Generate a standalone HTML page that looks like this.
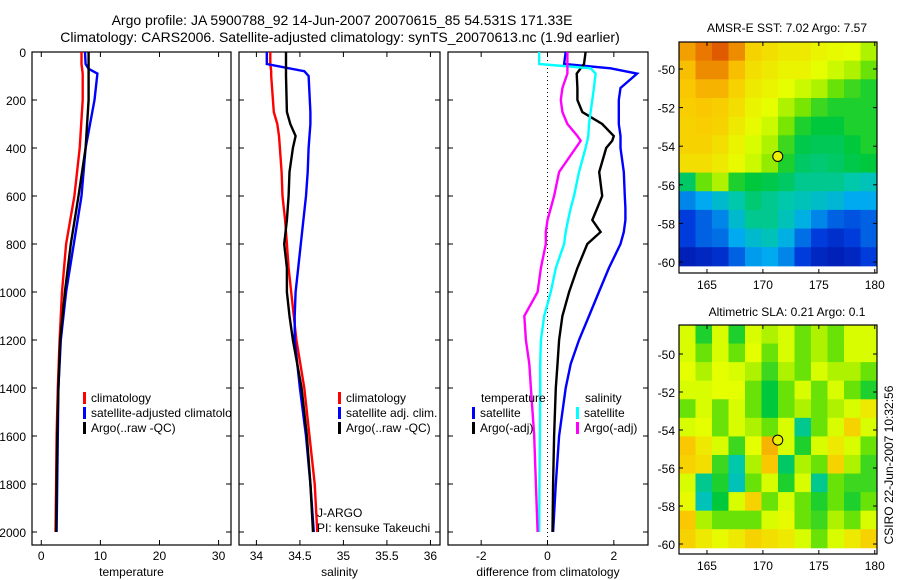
<!DOCTYPE html>
<html><head><meta charset="utf-8"><style>
body{margin:0;background:#fff;}
svg{display:block;font-family:"Liberation Sans",sans-serif;}
</style></head><body>
<svg id="fig" width="900" height="580" viewBox="0 0 900 580" xmlns="http://www.w3.org/2000/svg">
<defs><clipPath id="clip1"><rect x="32" y="52" width="199" height="493"/></clipPath></defs>
<text x="342" y="25" font-size="14" text-anchor="middle">Argo profile: JA 5900788_92 14-Jun-2007 20070615_85 54.531S 171.33E</text>
<text x="340" y="42" font-size="14" text-anchor="middle">Climatology: CARS2006. Satellite-adjusted climatology: synTS_20070613.nc (1.9d earlier)</text>
<text x="787" y="32" font-size="12" text-anchor="middle">AMSR-E SST: 7.02 Argo: 7.57</text>
<text x="787" y="316" font-size="12" text-anchor="middle">Altimetric SLA: 0.21 Argo: 0.1</text>
<text transform="translate(893,465) rotate(-90)" font-size="12" text-anchor="middle">CSIRO 22-Jun-2007 10:32:56</text>
<g id="g"></g>
</svg>
<script>
// ---- profile data ----
const tDepth=[0,50,70,90,200,400,600,800,1000,1200,1400,1600,1800,2000];
const tClim=[6.8,6.8,6.9,7.0,7.0,6.5,5.6,4.2,3.5,3.1,2.8,2.6,2.5,2.4];
const tSat=[7.4,7.5,8.0,9.5,9.0,7.5,6.8,5.5,4.2,3.3,2.9,2.8,2.7,2.6];
const tArgo=[8.0,8.0,8.0,8.0,8.0,7.5,6.3,5.0,4.0,3.2,2.9,2.7,2.6,2.5];
const sDepth=[0,50,80,100,250,300,350,400,500,600,700,800,900,1000,1100,1200,1400,1600,1800,2000];
const sClim=[34.16,34.16,34.17,34.17,34.2,34.24,34.26,34.27,34.29,34.3,34.33,34.35,34.37,34.4,34.43,34.46,34.55,34.61,34.67,34.7];
const sSat=[34.12,34.12,34.55,34.6,34.62,34.62,34.61,34.6,34.59,34.57,34.54,34.51,34.48,34.45,34.44,34.44,34.5,34.57,34.62,34.66];
const sArgo=[34.34,34.34,34.34,34.34,34.35,34.39,34.45,34.42,34.38,34.37,34.35,34.32,34.35,34.35,34.38,34.42,34.52,34.58,34.62,34.65];
const dDepth=[0,50,68,90,150,200,250,300,350,370,400,500,600,650,700,750,800,900,1000,1100,1200,1300,1400,1600,1800,2000];
const dSatT=[0.55,0.5,1.9,2.7,2.2,2.15,2.15,2.15,2.2,2.2,2.2,2.3,2.33,2.35,2.35,2.3,2.2,1.85,1.55,1.25,0.95,0.7,0.55,0.35,0.25,0.17];
const dArgoT=[1.15,1.1,1.0,0.88,0.9,0.9,1.05,1.65,2.0,1.95,1.77,1.56,1.65,1.5,1.35,1.6,1.2,0.9,0.65,0.45,0.35,0.3,0.25,0.2,0.17,0.15];
const dSatS=[-0.25,-0.25,1.3,1.45,1.4,1.35,1.3,1.25,1.23,1.2,1.15,0.95,0.8,0.7,0.62,0.55,0.5,0.25,0.1,-0.1,-0.2,-0.22,-0.22,-0.23,-0.24,-0.25];
const dArgoS=[0.6,0.6,0.6,0.6,0.45,0.4,0.45,0.6,0.9,1.0,0.85,0.35,0.2,0.1,0.0,-0.05,-0.05,-0.2,-0.3,-0.7,-0.65,-0.55,-0.5,-0.4,-0.35,-0.3];
const depthTicks=[0,200,400,600,800,1000,1200,1400,1600,1800,2000];
const tTicks=[0,10,20,30], sTicks=[34,34.5,35,35.5,36], dTicks=[-2,0,2];
// ---- map data (normalised colour values 0..1, 12x12, north->south) ----
const sst=[
[0.78,0.82,0.86,0.8,0.72,0.7,0.68,0.68,0.66,0.65,0.64,0.6],
[0.75,0.8,0.8,0.75,0.7,0.68,0.66,0.66,0.64,0.62,0.6,0.55],
[0.74,0.76,0.76,0.72,0.68,0.66,0.64,0.62,0.6,0.55,0.52,0.5],
[0.73,0.74,0.73,0.7,0.66,0.64,0.6,0.56,0.52,0.5,0.5,0.5],
[0.72,0.73,0.72,0.68,0.65,0.62,0.56,0.5,0.48,0.48,0.5,0.5],
[0.72,0.72,0.7,0.66,0.63,0.6,0.52,0.47,0.46,0.46,0.48,0.5],
[0.7,0.7,0.68,0.65,0.62,0.58,0.5,0.45,0.44,0.45,0.47,0.48],
[0.45,0.55,0.6,0.5,0.48,0.47,0.45,0.42,0.42,0.42,0.4,0.38],
[0.25,0.3,0.35,0.4,0.44,0.42,0.4,0.38,0.36,0.34,0.3,0.3],
[0.15,0.2,0.25,0.35,0.42,0.42,0.38,0.32,0.25,0.2,0.18,0.2],
[0.15,0.2,0.22,0.3,0.35,0.38,0.32,0.22,0.15,0.12,0.15,0.2],
[0.08,0.1,0.12,0.2,0.28,0.3,0.25,0.15,0.1,0.08,0.1,0.15]];
const sla=[
[0.63,0.5,0.63,0.5,0.63,0.6,0.63,0.55,0.6,0.55,0.63,0.63],
[0.63,0.55,0.63,0.55,0.64,0.55,0.63,0.55,0.6,0.55,0.63,0.63],
[0.64,0.6,0.64,0.63,0.6,0.52,0.6,0.55,0.63,0.6,0.6,0.55],
[0.63,0.63,0.64,0.64,0.55,0.48,0.55,0.63,0.55,0.63,0.55,0.5],
[0.55,0.63,0.55,0.63,0.55,0.48,0.55,0.6,0.55,0.6,0.63,0.68],
[0.63,0.64,0.55,0.63,0.6,0.55,0.63,0.42,0.55,0.63,0.72,0.63],
[0.74,0.68,0.63,0.52,0.64,0.76,0.63,0.5,0.63,0.68,0.63,0.55],
[0.72,0.7,0.52,0.4,0.6,0.74,0.45,0.6,0.55,0.72,0.6,0.52],
[0.63,0.42,0.5,0.38,0.55,0.63,0.5,0.63,0.42,0.55,0.52,0.52],
[0.65,0.38,0.48,0.63,0.72,0.55,0.63,0.55,0.5,0.55,0.5,0.55],
[0.74,0.6,0.55,0.55,0.55,0.63,0.65,0.55,0.52,0.6,0.55,0.63],
[0.72,0.68,0.65,0.68,0.72,0.7,0.68,0.63,0.55,0.63,0.68,0.72]];
const latTicks=[-50,-52,-54,-56,-58,-60], lonTicks=[165,170,175,180];
const argoLon=171.33, argoLat=-54.53;

const NS="http://www.w3.org/2000/svg", G=document.getElementById('g');
function mk(t,a,p){const e=document.createElementNS(NS,t);for(const k in a)e.setAttribute(k,a[k]);(p||G).appendChild(e);return e;}
const yTop=52,yBot=545;
const yD=d=>yTop+d*(532-52)/2000;
function panel(name,x0,x1,xmin,xmax,ticks,label,showY){
  const xs=v=>x0+(v-xmin)/(xmax-xmin)*(x1-x0);
  const g=mk('g',{});
  
  
  const r=mk('rect',{x:x0,y:yTop,width:x1-x0,height:yBot-yTop,fill:'none',stroke:'#000','stroke-width':1.2},g);
  
  
  depthTicks.forEach(d=>{const y=yD(d);
    mk('line',{x1:x0,x2:x0+5,y1:y,y2:y,stroke:'#000'},g);mk('line',{x1:x1-5,x2:x1,y1:y,y2:y,stroke:'#000'},g);
    if(showY){const t=mk('text',{x:x0-6,y:y+5,'font-size':12,'text-anchor':'end'},g);t.textContent=d;
      
      }
  });
  ticks.forEach(v=>{const x=xs(v);
    mk('line',{x1:x,x2:x,y1:yTop,y2:yTop+5,stroke:'#000'},g);mk('line',{x1:x,x2:x,y1:yBot-5,y2:yBot,stroke:'#000'},g);
    const t=mk('text',{x:x,y:560,'font-size':12,'text-anchor':'middle'},g);t.textContent=v;
    
    });
  const t=mk('text',{x:(x0+x1)/2,y:576,'font-size':12,'text-anchor':'middle'},g);t.textContent=label;
  
  
  return {xs,g};
}
function line(p,depths,vals,col,name){
  const pts=depths.map((d,i)=>p.xs(vals[i]).toFixed(1)+','+yD(d).toFixed(1)).join(' ');
  const e=mk('polyline',{points:pts,fill:'none',stroke:col,'stroke-width':2.4},p.g);
  
  
}
function legend(p,x,y,items,clip){
  const lg=mk('g',clip?{'clip-path':'url(#'+clip+')'}:{},p.g);
  
  
  items.forEach((it,i)=>{const yy=y+i*15;
    if(it[1])mk('rect',{x:x,y:yy-10,width:3,height:12,fill:it[1]},lg);
    const t=mk('text',{x:x+(it[1]?8:0),y:yy,'font-size':12},lg);t.textContent=it[0];
    
    });
}
// panel 1
const P1=panel('temperature-panel',32,231,-1.57,32.1,tTicks,'temperature',true);
line(P1,tDepth,tClim,'#f00','temp-climatology-line');
line(P1,tDepth,tSat,'#00f','temp-satellite-line');
line(P1,tDepth,tArgo,'#000','temp-argo-line');
legend(P1,83,402,[['climatology','#f00'],['satellite-adjusted climatology','#00f'],['Argo(..raw -QC)','#000']],'clip1');
// panel 2
const P2=panel('salinity-panel',239,440,33.8,36.11,sTicks,'salinity',false);
line(P2,sDepth,sClim,'#f00','sal-climatology-line');
line(P2,sDepth,sSat,'#00f','sal-satellite-line');
line(P2,sDepth,sArgo,'#000','sal-argo-line');
legend(P2,338,402,[['climatology','#f00'],['satellite adj. clim.','#00f'],['Argo(..raw -QC)','#000']]);
legend(P2,317,517,[['J-ARGO',null],['PI: kensuke Takeuchi',null]]);
// panel 3
const P3=panel('difference-panel',448,648,-3.0,3.03,dTicks,'difference from climatology',false);
mk('line',{x1:P3.xs(0),x2:P3.xs(0),y1:yTop,y2:yBot,stroke:'#000','stroke-dasharray':'1,3'},P3.g);
line(P3,dDepth,dSatT,'#00f','diff-temp-satellite-line');
line(P3,dDepth,dArgoT,'#000','diff-temp-argo-line');
line(P3,dDepth,dSatS,'#0ff','diff-sal-satellite-line');
line(P3,dDepth,dArgoS,'#f0f','diff-sal-argo-line');
legend(P3,481,402,[['temperature',null]]);
legend(P3,472,417,[['satellite','#00f'],['Argo(-adj)','#000']]);
legend(P3,585,402,[['salinity',null]]);
legend(P3,576,417,[['satellite','#0ff'],['Argo(-adj)','#f0f']]);
// colormap
function jet(v){const stops=[[0,[0,0,140]],[0.15,[0,60,220]],[0.3,[0,170,240]],[0.4,[0,200,170]],[0.48,[0,200,60]],[0.56,[120,230,0]],[0.64,[230,255,0]],[0.74,[250,200,0]],[0.84,[230,100,0]],[1,[180,30,0]]];
  for(let i=1;i<stops.length;i++)if(v<=stops[i][0]){const a=stops[i-1],b=stops[i],f=(v-a[0])/(b[0]-a[0]);
    return 'rgb('+a[1].map((c,k)=>Math.round(c+f*(b[1][k]-c))).join(',')+')';}
  return 'rgb(180,30,0)';}
function map(name,grid,x0,x1,y0,y1,lat50,lat60){
  const lonMin=162.5,lonMax=180.2;
  const xs=l=>x0+(l-lonMin)/(lonMax-lonMin)*(x1-x0);
  const ys=la=>lat50+(la+50)/(-10)*(lat60-lat50);
  const g=mk('g',{});
  
  
  const latTop=-50+(y0-lat50)/(lat60-lat50)*(-10), latBot=-60.2;
  const nr=grid.length,nc=grid[0].length;
  for(let r=0;r<nr;r++)for(let c=0;c<nc;c++){
    const la0=latTop+(latBot-latTop)*r/nr, la1=latTop+(latBot-latTop)*(r+1)/nr;
    const lo0=lonMin+(lonMax-lonMin)*c/nc, lo1=lonMin+(lonMax-lonMin)*(c+1)/nc;
    const e=mk('rect',{x:xs(lo0),y:ys(la0),width:xs(lo1)-xs(lo0)+0.5,height:ys(la1)-ys(la0)+0.5,fill:jet(grid[r][c])},g);
    
    
  }
  const f=mk('rect',{x:x0,y:y0,width:x1-x0,height:y1-y0,fill:'none',stroke:'#000','stroke-width':1.2},g);
  
  
  latTicks.forEach(l=>{const y=ys(l);mk('line',{x1:x0,x2:x0+4,y1:y,y2:y,stroke:'#000'},g);mk('line',{x1:x1-4,x2:x1,y1:y,y2:y,stroke:'#000'},g);
    const t=mk('text',{x:x0-4,y:y+5,'font-size':12,'text-anchor':'end'},g);t.textContent=l;
    
    });
  lonTicks.forEach(l=>{const x=xs(l);mk('line',{x1:x,x2:x,y1:y0,y2:y0+4,stroke:'#000'},g);mk('line',{x1:x,x2:x,y1:y1-4,y2:y1,stroke:'#000'},g);
    const t=mk('text',{x:x,y:y1+16,'font-size':12,'text-anchor':'middle'},g);t.textContent=l;
    
    });
  const m=mk('circle',{cx:xs(argoLon),cy:ys(argoLat),r:5,fill:'#ee0',stroke:'#000'},g);
  
  
}
map('sst-map',sst,679,877,42,273,69,262);
map('sla-map',sla,679,877,325,554,354,544);
</script>
</body></html>
